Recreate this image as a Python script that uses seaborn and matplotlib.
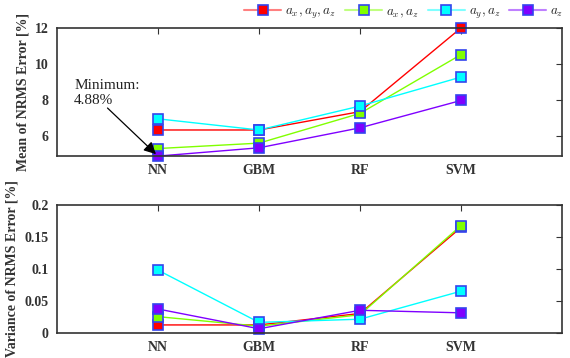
import numpy as np
import pandas as pd
import matplotlib
matplotlib.use("Agg")
import matplotlib.pyplot as plt
from matplotlib.lines import Line2D
import seaborn as sns

models = ["NN", "GBM", "RF", "SVM"]
series = [r"$a_x, a_y, a_z$", r"$a_x, a_z$", r"$a_y, a_z$", r"$a_z$"]

mean_axayaz = [6.33, 6.33, 7.35, 12.0]
mean_axaz = [5.30, 5.60, 7.25, 10.52]
mean_ayaz = [6.95, 6.33, 7.66, 9.27]
mean_az = [4.88, 5.34, 6.45, 7.97]

var_axayaz = [0.012, 0.012, 0.030, 0.165]
var_axaz = [0.025, 0.010, 0.028, 0.168]
var_ayaz = [0.098, 0.016, 0.021, 0.065]
var_az = [0.037, 0.006, 0.035, 0.031]

colors = ["#ff0000", "#80ff00", "#00ffff", "#7f00ff"]
legend_line_colors = ["#ff8080", "#c0ff80", "#80ffff", "#bf80ff"]
edge = "#3344ee"

sns.set_theme(style="white")
plt.rcParams["font.family"] = ["Liberation Serif", "DejaVu Serif"]
plt.rcParams["mathtext.fontset"] = "cm"

def long_frame(values):
    rows = []
    for name, vals in zip(series, values):
        for i, (m, v) in enumerate(zip(models, vals)):
            rows.append({"pos": i + 1, "model": m, "series": name, "value": v})
    return pd.DataFrame(rows)

mean_df = long_frame([mean_axayaz, mean_axaz, mean_ayaz, mean_az])
var_df = long_frame([var_axayaz, var_axaz, var_ayaz, var_az])

fig = plt.figure(figsize=(5.7, 3.58), dpi=100)
ax1 = fig.add_axes([0.1, 0.564, 0.886, 0.358])
ax2 = fig.add_axes([0.1, 0.071, 0.886, 0.356])

for ax, df in [(ax1, mean_df), (ax2, var_df)]:
    sns.lineplot(data=df, x="pos", y="value", hue="series", hue_order=series,
                 palette=colors, marker="s", markersize=7, markeredgecolor=edge,
                 markeredgewidth=1.2, linewidth=1.0, dashes=False, ax=ax,
                 legend=False, clip_on=False)
    ax.set_xlim(0, 5)
    ax.set_xticks([1, 2, 3, 4])
    ax.set_xticklabels(models, fontweight="bold", fontsize=10)
    ax.set_xlabel("")
    ax.tick_params(direction="in", top=True, right=True, length=4,
                   width=0.8, colors="#333333", labelcolor="#333333", pad=6)
    for s in ax.spines.values():
        s.set_color("#333333")
        s.set_linewidth(1.2)

ax1.set_ylim(4.88, 12)
ax1.set_yticks([6, 8, 10, 12])
ax1.set_yticklabels(["6", "8", "10", "12"], fontweight="bold", fontsize=10)
ax1.set_ylabel("Mean of NRMS Error [%]", fontweight="bold", fontsize=10,
               color="#333333", labelpad=4)

ax2.set_ylim(0, 0.2)
ax2.set_yticks([0, 0.05, 0.1, 0.15, 0.2])
ax2.set_yticklabels(["0", "0.05", "0.1", "0.15", "0.2"], fontweight="bold", fontsize=10)
ax2.set_ylabel("Variance of NRMS Error [%]", fontweight="bold", fontsize=10,
               color="#333333", labelpad=4)

# minimum callout
ax1.text(0.17, 9.15, "Minimum:\n%.2f%%" % min(mean_az), fontsize=11,
         color="#222222", ha="left", va="top", linespacing=1.15)
ax1.annotate("", xy=(1, min(mean_az)), xytext=(0.5, 7.55),
             arrowprops=dict(arrowstyle="-|>", color="black", lw=0.9,
                             mutation_scale=18, shrinkA=0, shrinkB=2))

handles = [Line2D([0], [0], color=lc, lw=1.5, marker="s",
                  markersize=7, markerfacecolor=c, markeredgecolor=edge,
                  markeredgewidth=1.2) for c, lc in zip(colors, legend_line_colors)]
fig.legend(handles, series, loc="center right", bbox_to_anchor=(0.998, 0.962),
           ncol=4, frameon=False, fontsize=9.5, handlelength=2.8,
           columnspacing=0.7, handletextpad=0.3, borderaxespad=0)

fig.savefig("out.png", dpi=100)
